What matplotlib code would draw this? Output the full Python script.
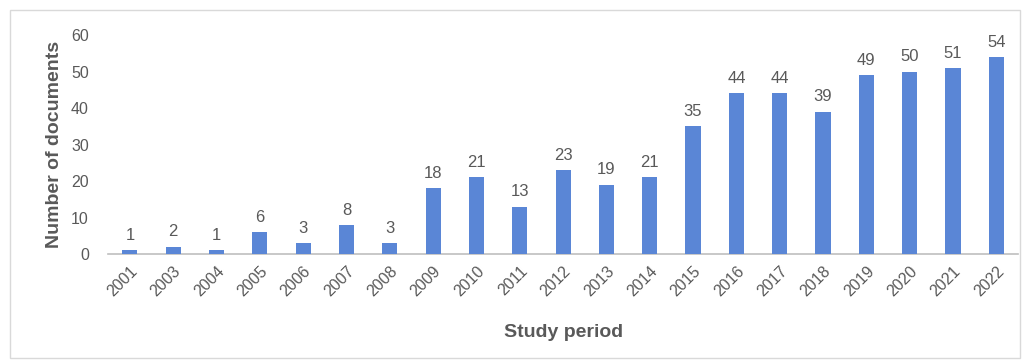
import matplotlib.pyplot as plt
from matplotlib.patches import Rectangle

years = ["2001", "2003", "2004", "2005", "2006", "2007", "2008", "2009", "2010",
         "2011", "2012", "2013", "2014", "2015", "2016", "2017", "2018", "2019",
         "2020", "2021", "2022"]
documents = [1, 2, 1, 6, 3, 8, 3, 18, 21, 13, 23, 19, 21, 35, 44, 44, 39, 49, 50, 51, 54]

BAR_COLOR = "#5a86d6"
TEXT_COLOR = "#595959"

plt.rcParams["font.family"] = ["Liberation Sans", "DejaVu Sans"]

fig = plt.figure(figsize=(10.3, 3.64), dpi=100)
# cadre léger autour du graphique
fig.patches.append(Rectangle((10 / 1030, 6 / 364), 1010 / 1030, 348 / 364,
                             transform=fig.transFigure, fill=False,
                             edgecolor="#d9d9d9", linewidth=1.0))

ax = fig.add_axes([0.1051, 0.3022, 0.8832, 0.6016])
x = list(range(len(years)))
ax.bar(x, documents, width=0.35, color=BAR_COLOR, zorder=3)

for xi, v in zip(x, documents):
    ax.text(xi, v + 2.0, str(v), ha="center", va="bottom", fontsize=12, color=TEXT_COLOR)

ax.set_xlim(-0.5, len(years) - 0.5)
ax.set_ylim(0, 60)
ax.set_yticks(range(0, 61, 10))
ax.set_xticks(x)
ax.set_xticklabels(years, rotation=45, ha="right", rotation_mode="anchor")
ax.tick_params(axis="both", length=0, labelsize=11.5, colors=TEXT_COLOR)
ax.tick_params(axis="x", pad=7)
ax.tick_params(axis="y", pad=14)

for s in ["top", "right", "left"]:
    ax.spines[s].set_visible(False)
ax.spines["bottom"].set_color("#bfbfbf")
ax.spines["bottom"].set_linewidth(1.2)

ax.set_ylabel("Number of documents", fontsize=14, fontweight="bold", color=TEXT_COLOR, labelpad=6)
ax.set_xlabel("Study period", fontsize=14, fontweight="bold", color=TEXT_COLOR, labelpad=18)

fig.savefig("out.png", dpi=100)
